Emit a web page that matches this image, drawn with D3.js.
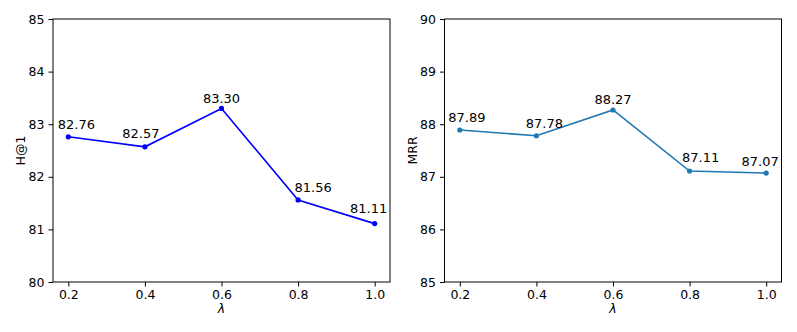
<!DOCTYPE html>
<html>
<head>
<meta charset="utf-8">
<script src="https://cdn.jsdelivr.net/npm/d3@7"></script>
<style>
  body { margin: 0; background: #fff; }
  svg text { font-family: "DejaVu Sans", sans-serif; fill: #000; }
</style>
</head>
<body>
<script>
// data
var lambdas = [0.2, 0.4, 0.6, 0.8, 1.0];
var hits1 = [82.76, 82.57, 83.30, 81.56, 81.11];
var mrr = [87.89, 87.78, 88.27, 87.11, 87.07];
var xTicks = [0.2, 0.4, 0.6, 0.8, 1.0];
var hitsTicks = [80, 81, 82, 83, 84, 85];
var mrrTicks = [85, 86, 87, 88, 89, 90];

// label nudges (pixels), the labels were spread apart in the original
var hitsShift = [[8, -8], [-4, -9], [0, -5], [15, -8], [-6, -11]];
var mrrShift = [[7, -8], [8, -8], [0, -6], [11, -9], [-6, -7]];

var width = 797, height = 332;

var svg = d3.select("body").append("svg")
    .attr("width", width)
    .attr("height", height);

function drawPanel(left, values, shift, yDomain, yTicks, yLabel, color) {
  var top = 19, bottom = 282, w = 337;

  var x = d3.scaleLinear().domain([0.16, 1.04]).range([left, left + w]);
  var y = d3.scaleLinear().domain(yDomain).range([bottom, top]);

  var g = svg.append("g");

  // frame
  g.append("rect")
      .attr("x", left).attr("y", top)
      .attr("width", w).attr("height", bottom - top)
      .attr("fill", "none")
      .attr("stroke", "#000")
      .attr("stroke-width", 1);

  // x axis
  var xAxis = g.append("g")
      .attr("transform", "translate(0," + bottom + ")")
      .call(d3.axisBottom(x).tickValues(xTicks).tickFormat(d3.format(".1f")).tickSize(4.5).tickPadding(4));
  xAxis.select(".domain").remove();
  xAxis.selectAll("text").style("font-size", "12.5px");

  // y axis
  var yAxis = g.append("g")
      .attr("transform", "translate(" + left + ",0)")
      .call(d3.axisLeft(y).tickValues(yTicks).tickFormat(d3.format("d")).tickSize(4.5).tickPadding(4));
  yAxis.select(".domain").remove();
  yAxis.selectAll("text").style("font-size", "12.5px");

  // axis labels
  g.append("text")
      .attr("x", left + w / 2)
      .attr("y", 313)
      .attr("text-anchor", "middle")
      .style("font-size", "12.5px")
      .style("font-style", "italic")
      .text("λ");

  g.append("text")
      .attr("transform", "translate(" + (left - 28) + "," + ((top + bottom) / 2) + ") rotate(-90)")
      .attr("text-anchor", "middle")
      .style("font-size", "12.5px")
      .text(yLabel);

  // line
  var line = d3.line()
      .x(function(d, i) { return x(lambdas[i]); })
      .y(function(d) { return y(d); });

  g.append("path")
      .datum(values)
      .attr("d", line)
      .attr("fill", "none")
      .attr("stroke", color)
      .attr("stroke-width", 1.6);

  g.selectAll(".pt")
      .data(values)
      .enter().append("circle")
      .attr("cx", function(d, i) { return x(lambdas[i]); })
      .attr("cy", function(d) { return y(d); })
      .attr("r", 2.6)
      .attr("fill", color);

  // value labels
  g.selectAll(".lbl")
      .data(values)
      .enter().append("text")
      .attr("x", function(d, i) { return x(lambdas[i]) + shift[i][0]; })
      .attr("y", function(d, i) { return y(d) + shift[i][1]; })
      .attr("text-anchor", "middle")
      .style("font-size", "13px")
      .text(function(d) { return d.toFixed(2); });
}

drawPanel(53, hits1, hitsShift, [80, 85], hitsTicks, "H@1", "#0000ff");
drawPanel(444.5, mrr, mrrShift, [85, 90], mrrTicks, "MRR", "#1f77b4");
</script>
</body>
</html>
